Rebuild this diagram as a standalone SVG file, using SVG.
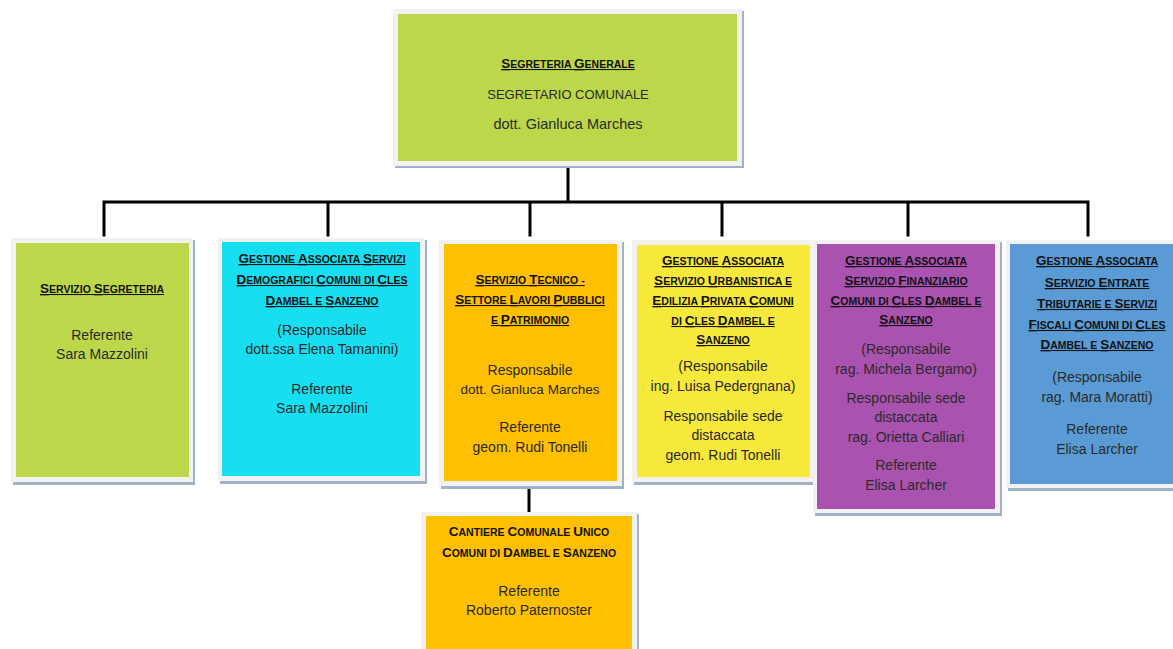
<svg xmlns="http://www.w3.org/2000/svg" width="1173" height="649" viewBox="0 0 1173 649">
<style>
  text { font-family: "Liberation Sans", Arial, sans-serif; text-anchor: middle; }
  .t { font-size: 10.5px; font-weight: bold; fill: #111; }
  .c { font-size: 13.5px; }
  .u { text-decoration: underline; }
  .b { font-size: 14px; fill: #2a2a2a; }
  .shadow { fill: #a3b1c6; }
  .frame { fill: #f2f2f2; }
  .conn { stroke: #000; stroke-width: 3; fill: none; stroke-linecap: square; }
</style>
<rect width="1173" height="649" fill="#fff"/>
<g id="connectors">
  <path class="conn" d="M568 168 V202 M104 235 V202 H1088 V235 M328 202 V235 M530 202 V235 M722 202 V235 M908 202 V235 M529 488 V512"/>
</g>
<g id="segreteria-generale">
  <rect class="shadow" x="395" y="11" width="349" height="157"/>
  <rect class="frame" x="393" y="9" width="349" height="157"/>
  <rect x="398" y="14" width="339" height="147" fill="#bdd74b"/>
  <text class="t u" x="568" y="68"><tspan class="c">S</tspan>EGRETERIA <tspan class="c">G</tspan>ENERALE</text>
  <text class="b" x="568" y="99" style="font-size:13px">SEGRETARIO COMUNALE</text>
  <text class="b" x="568" y="129" style="font-size:14.5px">dott. Gianluca Marches</text>
</g>
<g id="servizio-segreteria">
  <rect class="shadow" x="13" y="240" width="182" height="245"/>
  <rect class="frame" x="11" y="238" width="182" height="244"/>
  <rect x="16" y="243" width="173" height="234" fill="#bdd74b"/>
  <text class="t u" x="102" y="293"><tspan class="c">S</tspan>ERVIZIO <tspan class="c">S</tspan>EGRETERIA</text>
  <text class="b" x="102" y="340">Referente</text>
  <text class="b" x="102" y="359">Sara Mazzolini</text>
</g>
<g id="servizi-demografici">
  <rect class="shadow" x="220" y="240" width="207" height="244"/>
  <rect class="frame" x="218" y="238" width="207" height="243"/>
  <rect x="222" y="242" width="198" height="234" fill="#17dff2"/>
  <text class="t u" x="322" y="263"><tspan class="c">G</tspan>ESTIONE <tspan class="c">A</tspan>SSOCIATA <tspan class="c">S</tspan>ERVIZI</text>
  <text class="t u" x="322" y="284"><tspan class="c">D</tspan>EMOGRAFICI <tspan class="c">C</tspan>OMUNI DI <tspan class="c">C</tspan>LES</text>
  <text class="t u" x="322" y="305"><tspan class="c">D</tspan>AMBEL E <tspan class="c">S</tspan>ANZENO</text>
  <text class="b" x="322" y="335">(Responsabile</text>
  <text class="b" x="322" y="354">dott.ssa Elena Tamanini)</text>
  <text class="b" x="322" y="394">Referente</text>
  <text class="b" x="322" y="413">Sara Mazzolini</text>
</g>
<g id="servizio-tecnico">
  <rect class="shadow" x="441" y="242" width="183" height="247"/>
  <rect class="frame" x="439" y="240" width="183" height="246"/>
  <rect x="444" y="244" width="173" height="237" fill="#fec000"/>
  <text class="t u" x="530" y="284"><tspan class="c">S</tspan>ERVIZIO <tspan class="c">T</tspan>ECNICO -</text>
  <text class="t u" x="530" y="304"><tspan class="c">S</tspan>ETTORE <tspan class="c">L</tspan>AVORI <tspan class="c">P</tspan>UBBLICI</text>
  <text class="t u" x="530" y="324">E <tspan class="c">P</tspan>ATRIMONIO</text>
  <text class="b" x="530" y="375">Responsabile</text>
  <text class="b" x="530" y="394" style="font-size:13.5px">dott. Gianluca Marches</text>
  <text class="b" x="530" y="432">Referente</text>
  <text class="b" x="530" y="452">geom. Rudi Tonelli</text>
</g>
<g id="servizio-urbanistica">
  <rect class="shadow" x="634" y="242" width="182" height="243"/>
  <rect class="frame" x="632" y="240" width="182" height="242"/>
  <rect x="637" y="245" width="173" height="232" fill="#f7e93c"/>
  <text class="t u" x="723" y="265"><tspan class="c">G</tspan>ESTIONE <tspan class="c">A</tspan>SSOCIATA</text>
  <text class="t u" x="723" y="285"><tspan class="c">S</tspan>ERVIZIO <tspan class="c">U</tspan>RBANISTICA E</text>
  <text class="t u" x="723" y="305"><tspan class="c">E</tspan>DILIZIA <tspan class="c">P</tspan>RIVATA <tspan class="c">C</tspan>OMUNI</text>
  <text class="t u" x="723" y="325">DI <tspan class="c">C</tspan>LES <tspan class="c">D</tspan>AMBEL E</text>
  <text class="t u" x="723" y="344"><tspan class="c">S</tspan>ANZENO</text>
  <text class="b" x="723" y="371">(Responsabile</text>
  <text class="b" x="723" y="391">ing. Luisa Pedergnana)</text>
  <text class="b" x="723" y="421">Responsabile sede</text>
  <text class="b" x="723" y="440">distaccata</text>
  <text class="b" x="723" y="460">geom. Rudi Tonelli</text>
</g>
<g id="servizio-finanziario">
  <rect class="shadow" x="815" y="242" width="187" height="274"/>
  <rect class="frame" x="813" y="240" width="187" height="273"/>
  <rect x="817" y="244" width="178" height="265" fill="#aa52b0"/>
  <text class="t u" x="906" y="265"><tspan class="c">G</tspan>ESTIONE <tspan class="c">A</tspan>SSOCIATA</text>
  <text class="t u" x="906" y="285"><tspan class="c">S</tspan>ERVIZIO <tspan class="c">F</tspan>INANZIARIO</text>
  <text class="t u" x="906" y="305"><tspan class="c">C</tspan>OMUNI DI <tspan class="c">C</tspan>LES <tspan class="c">D</tspan>AMBEL E</text>
  <text class="t u" x="906" y="324"><tspan class="c">S</tspan>ANZENO</text>
  <text class="b" x="906" y="354">(Responsabile</text>
  <text class="b" x="906" y="374">rag. Michela Bergamo)</text>
  <text class="b" x="906" y="403">Responsabile sede</text>
  <text class="b" x="906" y="422">distaccata</text>
  <text class="b" x="906" y="442">rag. Orietta Calliari</text>
  <text class="b" x="906" y="470">Referente</text>
  <text class="b" x="906" y="490">Elisa Larcher</text>
</g>
<g id="servizio-entrate">
  <rect class="shadow" x="1008" y="242" width="170" height="249"/>
  <rect class="frame" x="1006" y="240" width="170" height="248"/>
  <rect x="1010" y="244" width="170" height="240" fill="#5a9bd5"/>
  <text class="t u" x="1097" y="265"><tspan class="c">G</tspan>ESTIONE <tspan class="c">A</tspan>SSOCIATA</text>
  <text class="t u" x="1097" y="287"><tspan class="c">S</tspan>ERVIZIO <tspan class="c">E</tspan>NTRATE</text>
  <text class="t u" x="1097" y="308"><tspan class="c">T</tspan>RIBUTARIE E <tspan class="c">S</tspan>ERVIZI</text>
  <text class="t u" x="1097" y="329"><tspan class="c">F</tspan>ISCALI <tspan class="c">C</tspan>OMUNI DI <tspan class="c">C</tspan>LES</text>
  <text class="t u" x="1097" y="349"><tspan class="c">D</tspan>AMBEL E <tspan class="c">S</tspan>ANZENO</text>
  <text class="b" x="1097" y="382">(Responsabile</text>
  <text class="b" x="1097" y="402">rag. Mara Moratti)</text>
  <text class="b" x="1097" y="434">Referente</text>
  <text class="b" x="1097" y="454">Elisa Larcher</text>
</g>
<g id="cantiere-comunale">
  <rect class="shadow" x="423" y="514" width="216" height="140"/>
  <rect class="frame" x="421" y="512" width="216" height="140"/>
  <rect x="426" y="516" width="206" height="140" fill="#fec000"/>
  <text class="t" x="529" y="536"><tspan class="c">C</tspan>ANTIERE <tspan class="c">C</tspan>OMUNALE <tspan class="c">U</tspan>NICO</text>
  <text class="t" x="529" y="557"><tspan class="c">C</tspan>OMUNI DI <tspan class="c">D</tspan>AMBEL E <tspan class="c">S</tspan>ANZENO</text>
  <text class="b" x="529" y="596">Referente</text>
  <text class="b" x="529" y="615">Roberto Paternoster</text>
</g>
</svg>
